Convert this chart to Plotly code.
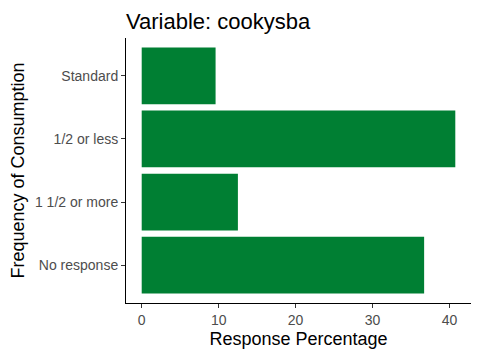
import plotly.graph_objects as go

categories = ["No response", "1 1/2 or more", "1/2 or less", "Standard"]
values = [36.7, 12.5, 40.75, 9.6]
x_ticks = [0, 10, 20, 30, 40]

W, H = 472, 352  # page body has an 8px margin

fig = go.Figure(go.Bar(
    x=values, y=categories, orientation="h",
    marker=dict(color="#007F33", line=dict(width=0)),
))

fig.update_layout(
    width=W, height=H,
    margin=dict(l=118, r=9, t=30, b=57),
    paper_bgcolor="white", plot_bgcolor="white",
    bargap=0.1,
    font=dict(family="Liberation Sans, Arial, sans-serif"),
    title=dict(text="Variable: cookysba", x=118/W, xanchor="left",
               y=1 - 13/H, yanchor="middle",
               font=dict(size=22, color="black")),
    showlegend=False,
)
fig.update_xaxes(
    range=[-2.04, 42.79], tickvals=x_ticks, showgrid=False, zeroline=False,
    showline=True, linecolor="black", linewidth=1,
    ticks="outside", ticklen=4, tickcolor="#333333",
    tickfont=dict(size=14, color="#4D4D4D"),
    title=dict(text="Response Percentage", font=dict(size=18, color="black"), standoff=5),
)
fig.update_yaxes(
    categoryorder="array", categoryarray=categories,
    range=[-0.6, 3.6], showgrid=False, zeroline=False,
    showline=True, linecolor="black", linewidth=1,
    ticks="outside", ticklen=4, tickcolor="#333333",
    tickfont=dict(size=14, color="#4D4D4D"),
    title=dict(text="Frequency of Consumption", font=dict(size=18, color="black"), standoff=5),
)

fig.write_html("out.html")
